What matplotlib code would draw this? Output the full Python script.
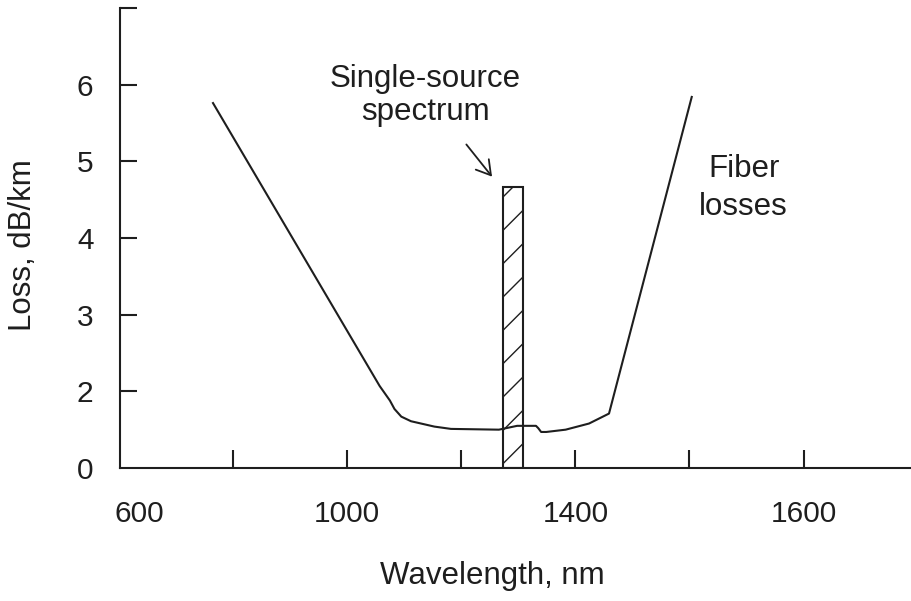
import matplotlib
matplotlib.use("Agg")
from matplotlib import pyplot as plt

plt.rcParams['font.family'] = ['Liberation Sans', 'DejaVu Sans']

# fiber loss curve (wavelength nm, loss on the drawn scale)
wavelength = [765, 1057, 1075, 1083, 1095, 1112, 1153, 1182, 1266, 1298, 1331,
              1335, 1340, 1349, 1383, 1424, 1459, 1604]
loss = [5.76, 2.07, 1.88, 1.77, 1.67, 1.61, 1.54, 1.51, 1.50, 1.55, 1.55,
        1.52, 1.47, 1.47, 1.50, 1.58, 1.71, 5.84]

# single-source spectrum bar
source_center = 1290
source_width = 35
source_top = 4.66

# ticks as printed in the original figure
x_tick_pos = [635, 800, 1000, 1200, 1400, 1600, 1800]
x_tick_labels = ['600', '', '1000', '', '1400', '', '1600']
y_tick_pos = [1, 2, 3, 4, 5, 6, 7]
y_tick_labels = ['0', '2', '3', '4', '5', '6', '']

ink = '#1e1e1e'

fig = plt.figure(figsize=(9.12, 6.01), dpi=100)
ax = fig.add_axes([120 / 912, 1 - 468 / 601, 1 - 120 / 912, (468 - 8) / 601])

ax.plot(wavelength, loss, color=ink, lw=1.5)
ax.bar(source_center, source_top - 1, bottom=1, width=source_width,
       facecolor='white', edgecolor=ink, hatch='/', lw=1.5)

ax.annotate('', xy=(1254, 4.80), xytext=(1209, 5.22),
            arrowprops=dict(arrowstyle='->,head_length=0.5,head_width=0.3',
                            mutation_scale=20, color=ink, lw=1.3,
                            shrinkA=0, shrinkB=0))
ax.text(1137, 5.86, 'Single-source\nspectrum', ha='center', va='center',
        fontsize=22.5, linespacing=1.15, color=ink)
ax.text(1695, 4.65, 'Fiber\nlosses', ha='center', va='center',
        fontsize=22.5, linespacing=1.34, color=ink)

ax.set_xlim(602, 1990)
ax.set_ylim(1, 7)
ax.set_xticks(x_tick_pos, x_tick_labels)
ax.set_yticks(y_tick_pos, y_tick_labels)
ax.xaxis.get_major_ticks()[0].tick1line.set_visible(False)
ax.yaxis.get_major_ticks()[0].tick1line.set_visible(False)

ax.tick_params(axis='both', direction='in', labelsize=21.5, colors=ink,
               width=1.5)
ax.tick_params(axis='x', length=13, pad=23)
ax.tick_params(axis='y', length=12, pad=19)

for side in ['top', 'right']:
    ax.spines[side].set_visible(False)
for side in ['left', 'bottom']:
    ax.spines[side].set_linewidth(1.5)
    ax.spines[side].set_color(ink)

ax.set_xlabel('Wavelength, nm', fontsize=22.5, color=ink)
ax.xaxis.set_label_coords((492 - 120) / 792, (468 - 561) / 460)
ax.set_ylabel('Loss, dB/km', fontsize=22.5, color=ink)
ax.yaxis.set_label_coords((38 - 120) / 792, (468 - 245) / 460)

fig.savefig('out.png', dpi=100)
